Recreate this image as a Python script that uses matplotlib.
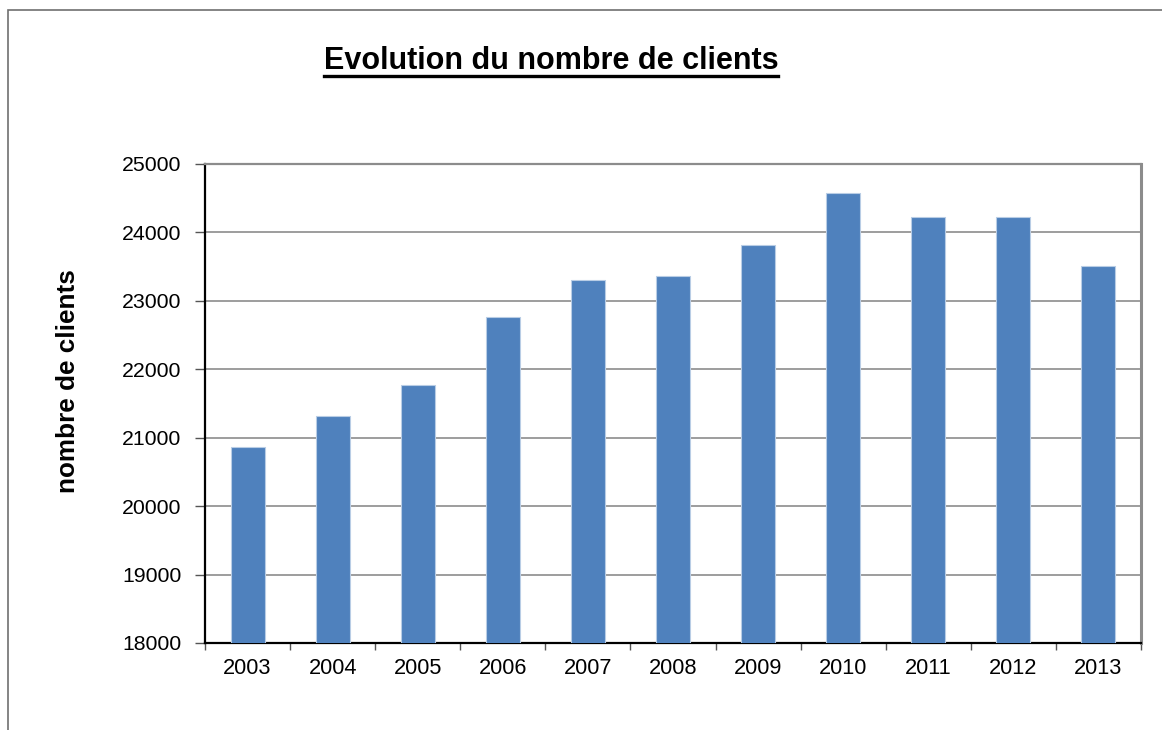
import matplotlib.pyplot as plt
from matplotlib.lines import Line2D
from matplotlib.patches import Rectangle
import numpy as np

plt.rcParams['font.family'] = ['Liberation Sans', 'DejaVu Sans']

# Data
years = ["2003", "2004", "2005", "2006", "2007", "2008", "2009", "2010", "2011", "2012", "2013"]
clients = [20860, 21320, 21770, 22770, 23300, 23370, 23810, 24580, 24230, 24230, 23510]

fig = plt.figure(figsize=(11.62, 7.30), dpi=100)
ax = fig.add_axes([205 / 1162, 1 - 643 / 730, (1141 - 205) / 1162, (643 - 164) / 730])

x = np.arange(len(years))
ax.bar(x, clients, width=0.40, color="#4F81BD", edgecolor="#B9CDE5", linewidth=0.8, zorder=3)

ax.set_xlim(-0.5, len(years) - 0.5)
ax.set_ylim(18000, 25000)
ax.set_yticks(range(18000, 25001, 1000))
ax.set_xticks(x)
ax.set_xticklabels(years)
ax.set_xticks(np.arange(-0.5, len(years), 1.0), minor=True)
ax.tick_params(axis="x", which="major", length=0, pad=11, labelsize=15.7)
ax.tick_params(axis="x", which="minor", length=5, width=1, color="#555555")
ax.tick_params(axis="y", length=7, width=1, color="#555555", pad=10, labelsize=15.3)

ax.grid(axis="y", color="#8c8c8c", linewidth=1.2, zorder=0)
ax.set_axisbelow(True)

for side in ["left", "bottom"]:
    ax.spines[side].set_color("black")
    ax.spines[side].set_linewidth(1.6)
ax.spines["top"].set_color("#8c8c8c")
ax.spines["top"].set_linewidth(1.6)
ax.spines["right"].set_color("#8c8c8c")
ax.spines["right"].set_linewidth(2.2)

fig.text(68 / 1162, 1 - 381 / 730, "nombre de clients", rotation=90, ha="center", va="center",
         fontsize=18.8, fontweight="bold")

# Outer frame
fig.patches.append(Rectangle((8 / 1162, -0.05), 1.2, 1 - 10 / 730 + 0.05, transform=fig.transFigure,
                             fill=False, edgecolor="#707070", linewidth=1.2))

# Title with underline
title = fig.text(551 / 1162, 1 - 61 / 730, "Evolution du nombre de clients", ha="center", va="center",
                 fontsize=22, fontweight="bold")
fig.canvas.draw()
bb = title.get_window_extent().transformed(fig.transFigure.inverted())
uy = 1 - 76 / 730
fig.lines.append(Line2D([bb.x0, bb.x1], [uy, uy], transform=fig.transFigure, color="black", linewidth=2.4))

fig.savefig("out.png", dpi=100)
